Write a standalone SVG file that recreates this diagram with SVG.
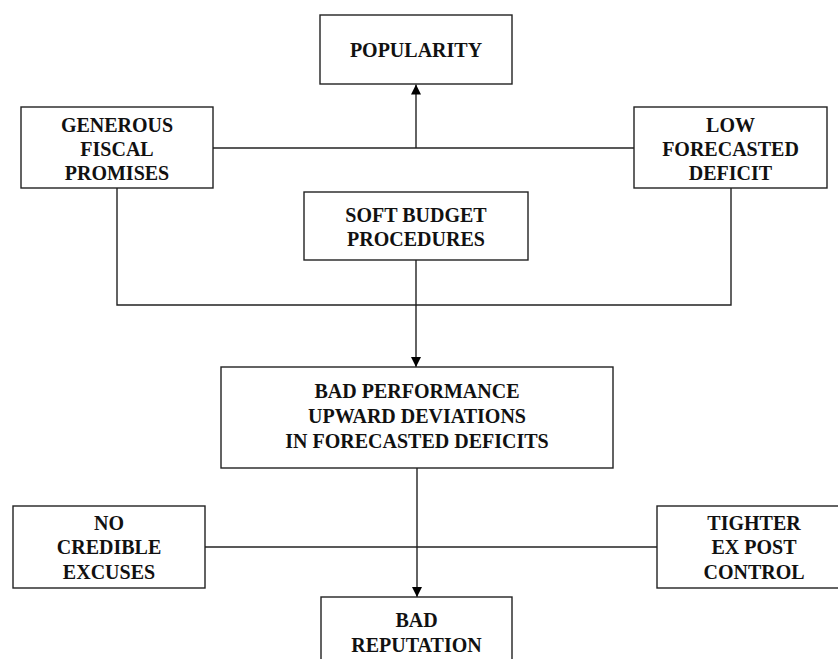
<svg xmlns="http://www.w3.org/2000/svg" width="838" height="659" viewBox="0 0 838 659">
<style>
.box{fill:#fff;stroke:#222;stroke-width:1.4}
.t{font-family:"Liberation Serif","Times New Roman",serif;font-weight:bold;font-size:20px;fill:#111;text-anchor:middle}
.c{fill:none;stroke:#222;stroke-width:1.4}
</style>
<defs>
<marker id="ah" viewBox="0 0 10 10" refX="10" refY="5" markerWidth="10" markerHeight="10" markerUnits="userSpaceOnUse" orient="auto">
<path d="M0,0 L10,5 L0,10 Z" fill="#000"/>
</marker>
</defs>
<rect width="838" height="659" fill="#fff"/>
<g id="connectors">
<line class="c" x1="213" y1="148" x2="634" y2="148"/>
<line class="c" x1="416" y1="148" x2="416" y2="84.5" marker-end="url(#ah)"/>
<polyline class="c" points="117,188 117,305 731,305 731,188"/>
<line class="c" x1="416" y1="260" x2="416" y2="367" marker-end="url(#ah)"/>
<line class="c" x1="417" y1="468" x2="417" y2="597" marker-end="url(#ah)"/>
<line class="c" x1="205" y1="547" x2="657" y2="547"/>
</g>
<g id="popularity">
<rect class="box" x="320" y="15" width="192" height="69"/>
<text class="t" x="416" y="57">POPULARITY</text>
</g>
<g id="generous">
<rect class="box" x="21" y="107" width="192" height="81"/>
<text class="t" x="117" y="132">GENEROUS</text>
<text class="t" x="117" y="156">FISCAL</text>
<text class="t" x="117" y="180">PROMISES</text>
</g>
<g id="low">
<rect class="box" x="634" y="107" width="193" height="81"/>
<text class="t" x="730.5" y="132">LOW</text>
<text class="t" x="730.5" y="156">FORECASTED</text>
<text class="t" x="730.5" y="180">DEFICIT</text>
</g>
<g id="soft">
<rect class="box" x="304" y="192" width="224" height="68"/>
<text class="t" x="416" y="222">SOFT BUDGET</text>
<text class="t" x="416" y="246">PROCEDURES</text>
</g>
<g id="badperf">
<rect class="box" x="221" y="367" width="392" height="101"/>
<text class="t" x="417" y="398">BAD PERFORMANCE</text>
<text class="t" x="417" y="423">UPWARD DEVIATIONS</text>
<text class="t" x="417" y="448">IN FORECASTED DEFICITS</text>
</g>
<g id="nocredible">
<rect class="box" x="13" y="506" width="192" height="82"/>
<text class="t" x="109" y="530">NO</text>
<text class="t" x="109" y="554">CREDIBLE</text>
<text class="t" x="109" y="579">EXCUSES</text>
</g>
<g id="tighter">
<rect class="box" x="657" y="506" width="194" height="82"/>
<text class="t" x="754" y="530">TIGHTER</text>
<text class="t" x="754" y="554">EX POST</text>
<text class="t" x="754" y="579">CONTROL</text>
</g>
<g id="badrep">
<rect class="box" x="321" y="597" width="191" height="80"/>
<text class="t" x="416.5" y="627">BAD</text>
<text class="t" x="416.5" y="652">REPUTATION</text>
</g>
</svg>
